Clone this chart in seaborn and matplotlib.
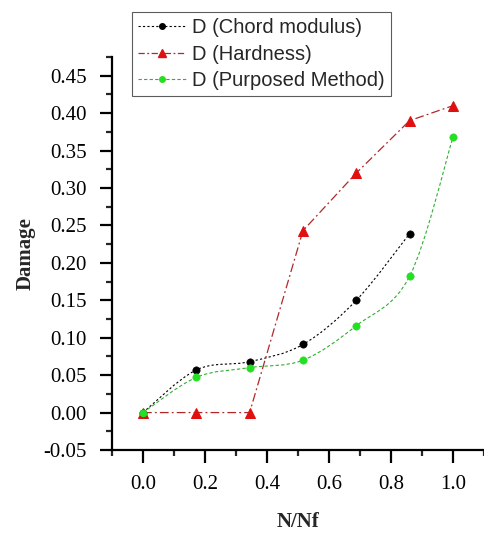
import matplotlib
matplotlib.use("Agg")
import matplotlib.pyplot as plt
import numpy as np
import pandas as pd
import seaborn as sns
from matplotlib.lines import Line2D
from matplotlib.path import Path
from matplotlib.patches import PathPatch
from matplotlib.ticker import FixedLocator, MultipleLocator, FormatStrFormatter

# data
n_nf = [0.0, 0.172, 0.344, 0.516, 0.688, 0.86, 1.0]
d_chord = [0.0, 0.057, 0.068, 0.091, 0.150, 0.239]
d_hardness = [0.0, 0.0, 0.0, 0.243, 0.320, 0.390, 0.410]
d_proposed = [0.0, 0.047, 0.060, 0.070, 0.116, 0.182, 0.368]

labels = ["D (Chord modulus)", "D (Hardness)", "D (Purposed Method)"]
colors = ["#000000", "#e01010", "#22e022"]
line_colors = ["#000000", "#b02828", "#30b030"]


def spline_path(xs, ys):
    # smooth curve through the points (cubic Bezier, Catmull-Rom style)
    pts = np.column_stack([xs, ys])
    padded = np.vstack([pts[0], pts, pts[-1]])
    verts = [pts[0]]
    codes = [Path.MOVETO]
    for i in range(len(pts) - 1):
        p0, p1, p2, p3 = padded[i], padded[i + 1], padded[i + 2], padded[i + 3]
        verts += [p1 + (p2 - p0) / 6, p2 - (p3 - p1) / 6, p2]
        codes += [Path.CURVE4] * 3
    return Path(verts, codes)


sns.set_style("ticks")
plt.rcParams["font.family"] = ["Liberation Serif", "DejaVu Serif"]
plt.rcParams["axes.unicode_minus"] = False

fig = plt.figure(figsize=(4.85, 5.33), dpi=100)
ax = fig.add_axes([112 / 485, 83 / 533, 372 / 485, 393 / 533])

chord_df = pd.DataFrame({"x": n_nf[:len(d_chord)], "y": d_chord})
hard_df = pd.DataFrame({"x": n_nf, "y": d_hardness})
prop_df = pd.DataFrame({"x": n_nf, "y": d_proposed})

ax.add_patch(PathPatch(spline_path(chord_df["x"], chord_df["y"]), fill=False,
                       edgecolor=line_colors[0], lw=0.8, linestyle=(0, (2, 2))))
ax.add_patch(PathPatch(spline_path(prop_df["x"], prop_df["y"]), fill=False,
                       edgecolor=line_colors[2], lw=0.8, linestyle=(0, (3, 2))))

sns.lineplot(data=hard_df, x="x", y="y", ax=ax, color=line_colors[1], lw=0.9,
             linestyle=(0, (7, 2.5, 1.5, 2.5)), marker="^", markersize=7,
             markerfacecolor=colors[1], markeredgecolor=colors[1], sort=False)
sns.scatterplot(data=chord_df, x="x", y="y", ax=ax, color=colors[0], s=28,
                edgecolor=colors[0], zorder=3)
sns.scatterplot(data=prop_df, x="x", y="y", ax=ax, color=colors[2], s=28,
                edgecolor=colors[2], zorder=3)

ax.set_xlim(-0.1, 1.1)
ax.set_ylim(-0.05, 0.475)
ax.xaxis.set_major_locator(FixedLocator([0.0, 0.2, 0.4, 0.6, 0.8, 1.0]))
ax.xaxis.set_minor_locator(MultipleLocator(0.1))
ax.yaxis.set_major_locator(FixedLocator(np.round(np.arange(-0.05, 0.46, 0.05), 2)))
ax.yaxis.set_minor_locator(MultipleLocator(0.025))
ax.xaxis.set_major_formatter(FormatStrFormatter("%.1f"))
ax.yaxis.set_major_formatter(FormatStrFormatter("%.2f"))

ax.tick_params(which="major", direction="out", length=9, width=1.6,
               labelsize=15, pad=9, colors="black")
ax.tick_params(which="minor", direction="out", length=4.5, width=1.6)
for side in ["left", "bottom"]:
    ax.spines[side].set_linewidth(1.6)
    ax.spines[side].set_color("black")
sns.despine(ax=ax)

ax.set_xlabel("N/Nf", fontsize=15, fontweight="bold", labelpad=13)
ax.set_ylabel("Damage", fontsize=15, fontweight="bold", labelpad=6)

handles = [
    Line2D([], [], color=line_colors[0], lw=0.8, linestyle=(0, (2, 2)),
           marker="o", markersize=4, markerfacecolor=colors[0], markeredgecolor=colors[0]),
    Line2D([], [], color=line_colors[1], lw=0.9, linestyle=(0, (5, 2, 1.5, 2)),
           marker="^", markersize=6, markerfacecolor=colors[1], markeredgecolor=colors[1]),
    Line2D([], [], color=line_colors[2], lw=0.8, linestyle=(0, (3, 2)),
           marker="o", markersize=4, markerfacecolor=colors[2], markeredgecolor=colors[2]),
]
leg = fig.legend(handles, labels, loc="upper left",
                 bbox_to_anchor=(132 / 485, 1 - 12 / 533), borderaxespad=0,
                 prop={"family": "Liberation Sans", "size": 14.5},
                 handlelength=2.4, handletextpad=0.3, labelspacing=0.38,
                 borderpad=0.3, fancybox=False, frameon=True)
leg.get_frame().set_edgecolor("#333333")
leg.get_frame().set_linewidth(0.8)

fig.savefig("out.png", dpi=100)
plt.close(fig)
